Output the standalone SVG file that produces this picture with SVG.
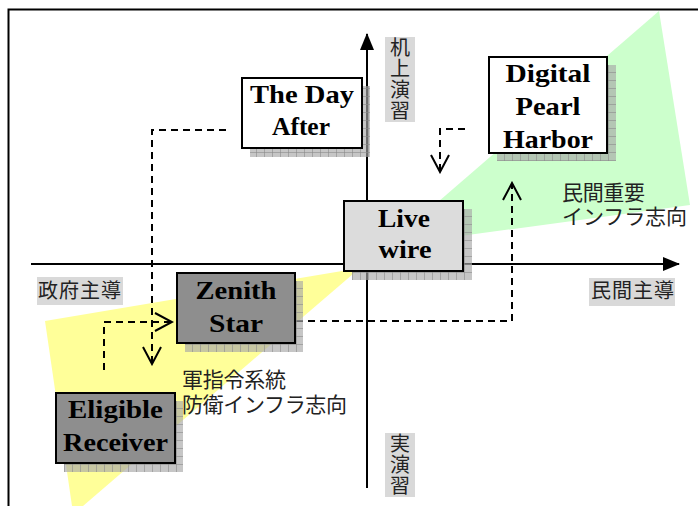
<svg xmlns="http://www.w3.org/2000/svg" width="698" height="506" viewBox="0 0 698 506">
<style>
.box{stroke:#000;stroke-width:2}
.w{fill:#fff}.lg{fill:#dcdcdc}.dg{fill:#8e8e8e}
.sh{fill:url(#shp)}
.nt{font-family:"Liberation Serif",serif;font-weight:bold;font-size:26px;fill:#000;text-anchor:middle}
.jp{font-family:"Noto Sans CJK JP","Noto Sans",sans-serif;font-size:20px;fill:#222}
.vt{writing-mode:vertical-rl;letter-spacing:1px}
.lb{fill:#d9d9d9}
.dash{fill:none;stroke:#000;stroke-width:2;stroke-dasharray:7 5}
.axis{stroke:#000;stroke-width:2;fill:none}
</style>
<defs>
<pattern id="shp" width="8" height="8" patternUnits="userSpaceOnUse">
<rect width="8" height="8" fill="#a8a8a8" fill-opacity="0.65"/>
<path d="M0 0.5H8M0.5 0V8" stroke="#8a8a8a" stroke-width="1" stroke-opacity="0.6"/>
</pattern>
<marker id="chev" viewBox="-1 -11 20 22" refX="17" refY="0" markerWidth="20" markerHeight="22" markerUnits="userSpaceOnUse" orient="auto">
<path d="M0,-9 L17,0 L0,9" fill="none" stroke="#000" stroke-width="2"/>
</marker>
<marker id="tri" viewBox="0 -8 17 16" refX="16" refY="0" markerWidth="17" markerHeight="16" markerUnits="userSpaceOnUse" orient="auto">
<path d="M0,-7 L17,0 L0,7 Z" fill="#000"/>
</marker>
</defs>
<rect x="0" y="0" width="698" height="506" fill="#fff"/>
<rect x="8.5" y="9.5" width="700" height="510" fill="none" stroke="#000" stroke-width="2"/>
<g id="regions">
<polygon points="45,321 360,268 83,506 72,506" fill="#ffff99"/>
<polygon points="659,11 690,205 387,246" fill="#ccffcc"/>
</g>
<g id="axes">
<path class="axis" d="M367,488 V34" marker-end="url(#tri)"/>
<path class="axis" d="M31,264 H679" marker-end="url(#tri)"/>
</g>
<g id="connectors">
<path class="dash" d="M226,130 H152 V364" marker-end="url(#chev)"/>
<path class="dash" d="M104,370 V322 H172" marker-end="url(#chev)"/>
<path class="dash" d="M296,321 H512 V183" marker-end="url(#chev)"/>
<path class="dash" d="M465,129 H440 V172" marker-end="url(#chev)"/>
</g>
<g id="node-the-day-after">
<rect class="sh" x="250" y="86" width="120" height="71"/>
<rect class="box w" x="242" y="78" width="120" height="70"/>
<text class="nt" x="302" y="103" textLength="104" lengthAdjust="spacingAndGlyphs">The Day</text>
<text class="nt" x="301" y="135" textLength="58" lengthAdjust="spacingAndGlyphs">After</text>
</g>
<g id="node-digital-pearl-harbor">
<rect class="sh" x="497" y="65" width="119" height="96"/>
<rect class="box w" x="489" y="57" width="118" height="96"/>
<text class="nt" x="548" y="82" textLength="85" lengthAdjust="spacingAndGlyphs">Digital</text>
<text class="nt" x="548" y="115" textLength="65" lengthAdjust="spacingAndGlyphs">Pearl</text>
<text class="nt" x="548" y="148" textLength="90" lengthAdjust="spacingAndGlyphs">Harbor</text>
</g>
<g id="node-live-wire">
<rect class="sh" x="352" y="209" width="120" height="71"/>
<rect class="box lg" x="344" y="201" width="119" height="70"/>
<text class="nt" x="404" y="227" textLength="52" lengthAdjust="spacingAndGlyphs">Live</text>
<text class="nt" x="405" y="258" textLength="53" lengthAdjust="spacingAndGlyphs">wire</text>
</g>
<g id="node-zenith-star">
<rect class="sh" x="185" y="281" width="118" height="71"/>
<rect class="box dg" x="177" y="273" width="118" height="70"/>
<text class="nt" x="236" y="299" textLength="81" lengthAdjust="spacingAndGlyphs">Zenith</text>
<text class="nt" x="236" y="332" textLength="54" lengthAdjust="spacingAndGlyphs">Star</text>
</g>
<g id="node-eligible-receiver">
<rect class="sh" x="64" y="401" width="119" height="71"/>
<rect class="box dg" x="56" y="393" width="119" height="70"/>
<text class="nt" x="115.5" y="418" textLength="95" lengthAdjust="spacingAndGlyphs">Eligible</text>
<text class="nt" x="115.5" y="451" textLength="105" lengthAdjust="spacingAndGlyphs">Receiver</text>
</g>
<g id="labels">
<rect class="lb" x="385" y="37" width="30" height="85"/>
<text class="jp vt" x="400" y="37">机上演習</text>
<rect class="lb" x="385" y="433" width="30" height="64"/>
<text class="jp vt" x="400" y="433">実演習</text>
<rect class="lb" x="37" y="277" width="86" height="28"/>
<text class="jp" x="38" y="298" textLength="83">政府主導</text>
<rect class="lb" x="589" y="278" width="86" height="28"/>
<text class="jp" x="591" y="298" textLength="83">民間主導</text>
<text class="jp" style="font-size:21px"><tspan x="562" y="200" textLength="83">民間重要</tspan><tspan x="562" y="224" textLength="125">インフラ志向</tspan></text>
<text class="jp" style="font-size:21px"><tspan x="182" y="387" textLength="104">軍指令系統</tspan><tspan x="182" y="412" textLength="165">防衛インフラ志向</tspan></text>
</g>
</svg>
